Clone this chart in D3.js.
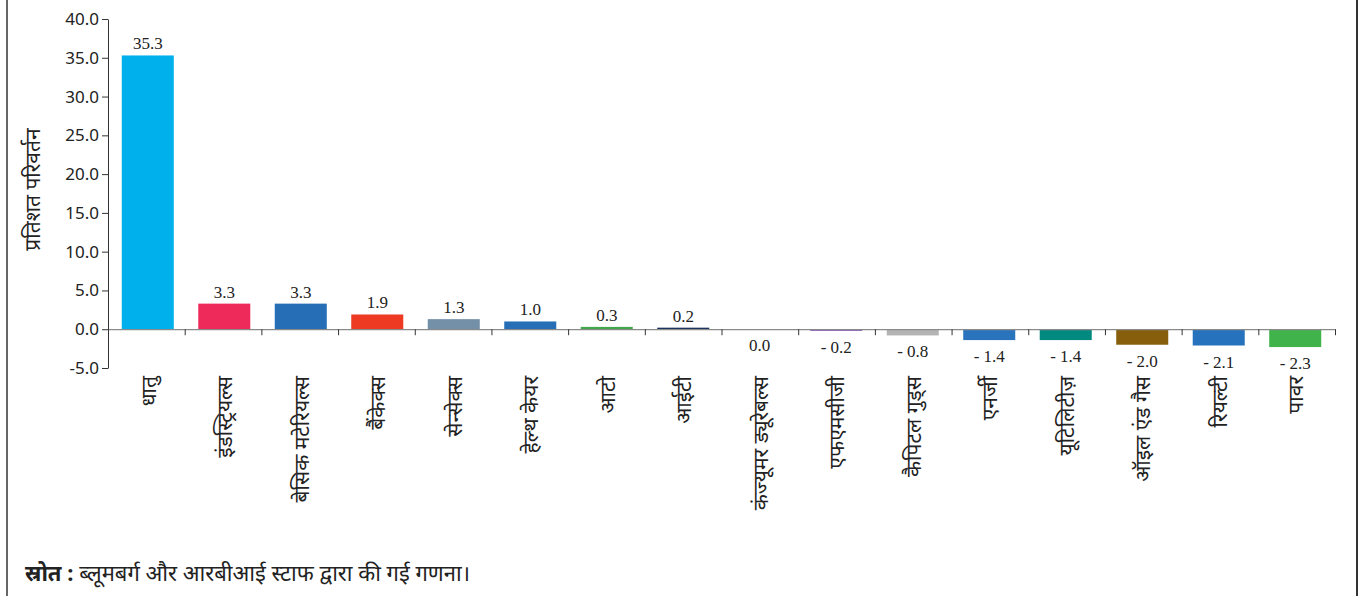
<!DOCTYPE html>
<html>
<head>
<meta charset="utf-8">
<script src="https://cdn.jsdelivr.net/npm/d3@7"></script>
<style>
  html, body { margin: 0; padding: 0; background: #fff; }
  svg { display: block; }
</style>
</head>
<body>
<svg id="chart" width="1360" height="596"></svg>
<script>
const categories = ["धातु", "इंडस्ट्रियल्स", "बेसिक मटेरियल्स", "बैंकेक्स", "सेन्सेक्स", "हेल्थ केयर", "आटो", "आईटी", "कंज्यूमर ड्यूरेबल्स", "एफएमसीजी", "कैपिटल गुड्स", "एनर्जी", "यूटिलिटीज़", "ऑइल एंड गैस", "रियल्टी", "पावर"];
const values = [35.3, 3.3, 3.3, 1.9, 1.3, 1.0, 0.3, 0.2, 0.0, -0.2, -0.8, -1.4, -1.4, -2.0, -2.1, -2.3];
const colors = ["#00B0EC", "#EE2A5A", "#266FB7", "#EE3A23", "#7390A8", "#266FB7", "#3FA84A", "#1C3560", "#7F7F7F", "#7A3AAE", "#B4B4B4", "#2A74BE", "#00897F", "#865E0C", "#2672BC", "#40B44A"];
const yTicks = [-5, 0, 5, 10, 15, 20, 25, 30, 35, 40];
const yTitle = "प्रतिशत परिवर्तन";
const sourceLabel = "स्रोत :";
const sourceText = " ब्लूमबर्ग और आरबीआई स्टाफ द्वारा की गई गणना।";

const svg = d3.select("#chart");
const W = 1360, H = 596;
const mLeft = 108, mRight = 1335, mTop = 19, mBottom = 368;

// frame lines
svg.append("line").attr("x1", 7).attr("x2", 7).attr("y1", 0).attr("y2", H)
  .attr("stroke", "#333").attr("stroke-width", 1.5);
svg.append("line").attr("x1", 1357).attr("x2", 1357).attr("y1", 0).attr("y2", H)
  .attr("stroke", "#333").attr("stroke-width", 2);

const y = d3.scaleLinear().domain([-5, 40]).range([mBottom, mTop]);
const x = d3.scaleBand().domain(categories).range([mLeft, mRight])
  .paddingInner(0.32).paddingOuter(0.18);

const fontTick = "'Noto Sans', 'DejaVu Sans', sans-serif";
const devaSize = 21;

// bars
svg.append("g").selectAll("rect").data(values).join("rect")
  .attr("x", (d, i) => x(categories[i]))
  .attr("width", x.bandwidth())
  .attr("y", d => y(Math.max(0, d)))
  .attr("height", d => Math.abs(y(d) - y(0)))
  .attr("fill", (d, i) => colors[i]);

// x axis (zero line) with ticks at band boundaries
const xb = d3.scaleLinear().domain([0, categories.length]).range([mLeft, mRight]);
const xAxis = svg.append("g").attr("transform", `translate(0,${y(0)})`)
  .call(d3.axisBottom(xb).tickValues(d3.range(1, categories.length + 1))
    .tickFormat("").tickSize(6).tickSizeOuter(0));
xAxis.select(".domain").attr("stroke", "#8a8a8a").attr("stroke-width", 1.3);
xAxis.selectAll(".tick line").attr("stroke", "#333");

// y axis
const yFmt = d => d3.format(".1f")(d).replace("−", "-");
const yAxis = svg.append("g").attr("transform", `translate(${mLeft},0)`)
  .call(d3.axisLeft(y).tickValues(yTicks).tickFormat(yFmt)
    .tickSize(6).tickSizeOuter(0));
yAxis.select(".domain").attr("stroke", "#333");
yAxis.selectAll(".tick line").attr("stroke", "#333");
yAxis.selectAll(".tick text").attr("font-family", fontTick).attr("font-size", 17)
  .attr("fill", "#222").attr("x", -9);

// y title
svg.append("text")
  .attr("transform", `translate(40,${(y(40) + y(-5)) / 2 - 4}) rotate(-90)`)
  .attr("text-anchor", "middle")
  .attr("font-family", fontTick).attr("font-size", devaSize).attr("fill", "#222")
  .text(yTitle);

// value labels
const fmt = d => d < 0 ? "- " + d3.format(".1f")(-d) : d3.format(".1f")(d);
svg.append("g").selectAll("text").data(values).join("text")
  .attr("x", (d, i) => x(categories[i]) + x.bandwidth() / 2)
  .attr("y", d => d > 0 ? y(d) - 6 : y(d) + 22)
  .attr("text-anchor", "middle")
  .attr("font-family", "'Liberation Serif', serif").attr("font-size", 17)
  .attr("fill", "#222")
  .text(fmt);

// category labels (rotated)
svg.append("g").selectAll("text").data(categories).join("text")
  .attr("transform", d => `translate(${x(d) + x.bandwidth() / 2 + 8},376) rotate(-90)`)
  .attr("text-anchor", "end")
  .attr("font-family", fontTick).attr("font-size", devaSize).attr("fill", "#222")
  .text(d => d);

// source
const src = svg.append("text").attr("x", 25).attr("y", 581)
  .attr("font-family", fontTick).attr("font-size", 22).attr("fill", "#222");
src.append("tspan").attr("font-weight", "bold").text(sourceLabel);
src.append("tspan").text(sourceText);
</script>
</body>
</html>
